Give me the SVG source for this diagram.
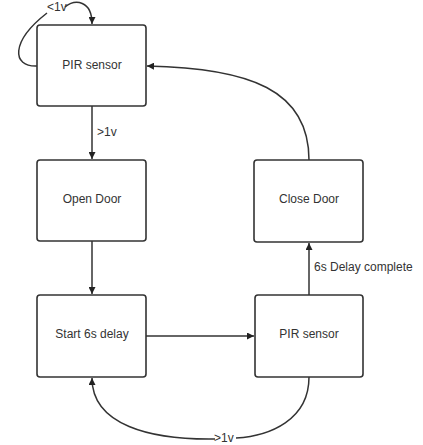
<svg xmlns="http://www.w3.org/2000/svg" width="423" height="445" viewBox="0 0 423 445">
<style>
.box{fill:#fff;stroke:#333;stroke-width:1.6}
.t{font-family:"Liberation Sans",Arial,sans-serif;font-size:12px;fill:#333}
.c{text-anchor:middle}
.e{fill:none;stroke:#333;stroke-width:1.5}
</style>
<defs>
<marker id="ah" viewBox="0 0 10 10" refX="10" refY="5" markerWidth="7" markerHeight="7" markerUnits="userSpaceOnUse" orient="auto">
<path d="M0,0 L10,5 L0,10 z" fill="#222"/>
</marker>
</defs>
<rect width="423" height="445" fill="#fff"/>
<g id="connectors">
<path class="e" d="M92,106 L92,159" marker-end="url(#ah)"/>
<text class="t" x="97" y="136">&gt;1v</text>
<path class="e" d="M92,241 L92,294" marker-end="url(#ah)"/>
<path class="e" d="M146,336 L254,336" marker-end="url(#ah)"/>
<path class="e" d="M309,295 L309,243" marker-end="url(#ah)"/>
<text class="t" x="314" y="271">6s Delay complete</text>
<path class="e" d="M309,160 C309,90 250,68 147,66" marker-end="url(#ah)"/>
<path class="e" d="M37,66 C12,67 10,42 47,13"/>
<path class="e" d="M65,7 C75,-1 92,0 92,24" marker-end="url(#ah)"/>
<text class="t" x="47" y="11">&lt;1v</text>
<path class="e" d="M309,377 C309,420 270,436 236,438"/>
<path class="e" d="M215,439 C150,440 92,425 92,378" marker-end="url(#ah)"/>
<text class="t" x="214" y="442">&gt;1v</text>
</g>
<g id="pir1"><rect class="box" x="37" y="25" width="109" height="81" rx="3"/><text class="t c" x="92" y="69">PIR sensor</text></g>
<g id="open"><rect class="box" x="37" y="160" width="109" height="81" rx="3"/><text class="t c" x="92" y="203">Open Door</text></g>
<g id="start"><rect class="box" x="37" y="295" width="109" height="82" rx="3"/><text class="t c" x="92" y="338">Start 6s delay</text></g>
<g id="pir2"><rect class="box" x="255" y="295" width="108" height="82" rx="3"/><text class="t c" x="309" y="338">PIR sensor</text></g>
<g id="close"><rect class="box" x="254" y="160" width="109" height="82" rx="3"/><text class="t c" x="309" y="203">Close Door</text></g>
</svg>
